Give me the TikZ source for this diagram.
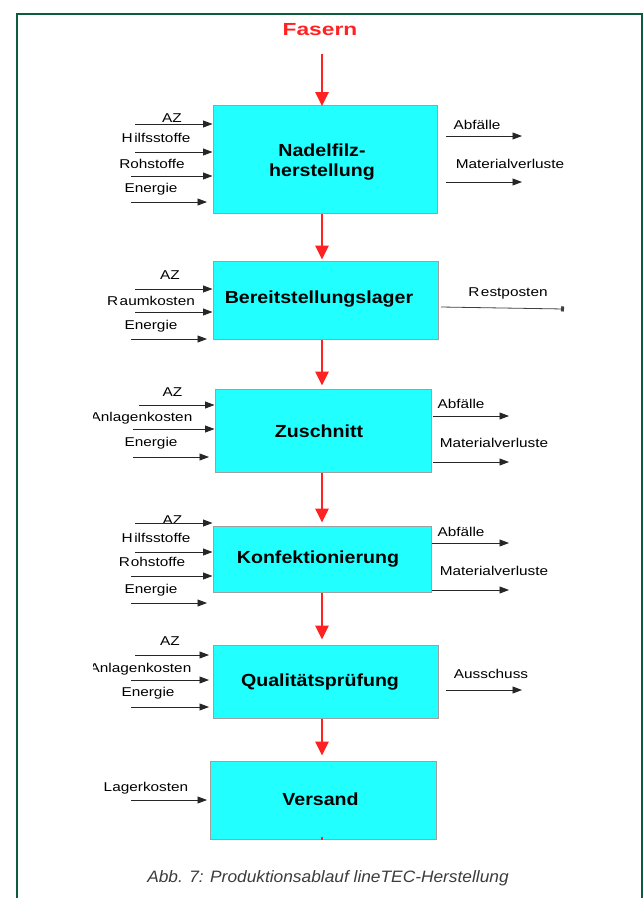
\documentclass[tikz,border=0pt]{standalone}
\usepackage{fontspec}
\usetikzlibrary{arrows.meta}
\newfontfamily\lblfont{Liberation Sans}[FakeStretch=1.2]
\newfontfamily\boxfont{Liberation Sans}[FakeStretch=1.12]
\newfontfamily\fasfont{Liberation Sans}[FakeStretch=1.3]
\newfontfamily\capfont{Liberation Sans}[FakeStretch=1.05]
\definecolor{framegreen}{RGB}{12,92,62}
\definecolor{boxcyan}{RGB}{34,255,255}
\definecolor{flowred}{RGB}{255,34,34}
\definecolor{capgray}{RGB}{60,60,60}
\tikzset{
  procbox/.style={draw=gray!75, line width=1pt, fill=boxcyan, inner sep=0pt,
    font=\boxfont\bfseries\fontsize{17.5}{20}\selectfont, align=center},
  lbl/.style={inner sep=0pt, font=\lblfont\fontsize{12.8}{14}\selectfont},
  inarr/.style={draw=black!85, line width=0.8pt, -{Triangle[length=9.5pt,width=7pt]}},
  flow/.style={draw=flowred, line width=2.8pt, -{Triangle[length=14pt,width=13pt]}},
}
\begin{document}
\begin{tikzpicture}[x=1pt,y=-1pt]
\useasboundingbox (0,0) rectangle (644,898);
% frame
\draw[framegreen, line width=2.2pt] (17,900) -- (17,14) -- (642,14) -- (642,900);

% title
\node[text=flowred, inner sep=0pt, font=\fasfont\bfseries\fontsize{17.5}{19}\selectfont] (fas) at (320,30) {Fasern};
\coordinate (top) at (322,54);

% boxes
\node[procbox, minimum width=224pt, minimum height=108pt] (b1) at (325,159) {};
\node[procbox, fill=none, draw=none] (t1) at (322,162) {Nadelfilz-\\herstellung};
\node[procbox, minimum width=225pt, minimum height=78pt] (b2) at (325.5,300) {};
\node[procbox, fill=none, draw=none] (t2) at (319,299) {Bereitstellungslager};
\node[procbox, minimum width=216pt, minimum height=83pt] (b3) at (323,430.5) {};
\node[procbox, fill=none, draw=none] (t3) at (319,431) {Zuschnitt};
\node[procbox, minimum width=218pt, minimum height=66pt] (b4) at (322,559) {};
\node[procbox, fill=none, draw=none] (t4) at (318,559) {Konfektionierung};
\node[procbox, minimum width=225pt, minimum height=73pt] (b5) at (325.5,681.5) {};
\node[procbox, fill=none, draw=none] (t5) at (320,682) {Qualitätsprüfung};
\node[procbox, minimum width=226pt, minimum height=78pt] (b6) at (323,800) {};
\node[procbox, fill=none, draw=none] (t6) at (320.5,799) {Versand};

% red flow
\coordinate (f1) at (322,106);
\draw[flow] (top) -- (f1);
\draw[flow] (b1.south -| top) -- ([yshift=1pt]b2.north -| top);
\draw[flow] (b2.south -| top) -- ([yshift=3pt]b3.north -| top);
\draw[flow] (b3.south -| top) -- ([yshift=3pt]b4.north -| top);
\draw[flow] (b4.south -| top) -- ([yshift=5pt]b5.north -| top);
\draw[flow] (b5.south -| top) -- ([yshift=5pt]b6.north -| top);
\draw[flowred, line width=2.2pt] (b6.south -| top) -- ([yshift=3pt]b6.south -| top);

% ---- box 1 inputs
\node[lbl] (l1a) at (172,118) {AZ};
\node[lbl] (l1b) at (156,138) {H\kern1.5pt ilfsstoffe};
\node[lbl] (l1c) at (152,164) {Rohstoffe};
\node[lbl] (l1d) at (151,189) {Energie};
\coordinate (s1a) at (135,124); \draw[inarr] (s1a) -- (s1a -| b1.west);
\coordinate (s1b) at (135,152); \draw[inarr] (s1b) -- (s1b -| b1.west);
\coordinate (s1c) at (131,176); \draw[inarr] (s1c) -- (s1c -| b1.west);
\coordinate (s1d) at (131,202); \coordinate (e1d) at (207,202); \draw[inarr] (s1d) -- (e1d);
% box 1 outputs
\node[lbl] (r1a) at (477,125) {Abfälle};
\node[lbl] (r1b) at (510,164) {Materialverluste};
\coordinate (o1a) at (446,136); \coordinate (p1a) at (522,136); \draw[inarr] (o1a) -- (p1a);
\coordinate (o1b) at (446,182); \coordinate (p1b) at (522,182); \draw[inarr] (o1b) -- (p1b);

% ---- box 2
\node[lbl] (l2a) at (170,275) {AZ};
\node[lbl] (l2b) at (151,301) {R\kern1.5pt aumkosten};
\node[lbl] (l2c) at (151,326) {Energie};
\coordinate (s2a) at (135,289); \draw[inarr] (s2a) -- (s2a -| b2.west);
\coordinate (s2b) at (135,312); \draw[inarr] (s2b) -- (s2b -| b2.west);
\coordinate (s2c) at (131,339); \coordinate (e2c) at (207,339); \draw[inarr] (s2c) -- (e2c);
\node[lbl] (r2a) at (508,293) {R\kern1.5pt estposten};
\coordinate (o2a) at (441,307); \coordinate (p2a) at (564,309);
\draw[draw=black!75, line width=0.8pt, -{Square[length=3pt,width=5pt]}] (o2a) -- (p2a);

% ---- box 3
\begin{scope}
\clip (93,380) rectangle (215,700);
\node[lbl] (l3b) at (141.5,418) {Anlagenkosten};
\node[lbl] (l5b) at (140.5,669) {Anlagenkosten};
\end{scope}
\node[lbl] (l3a) at (172.5,392) {AZ};
\node[lbl] (l3c) at (151,443) {Energie};
\coordinate (s3a) at (139,405); \draw[inarr] (s3a) -- (s3a -| b3.west);
\coordinate (s3b) at (133,429); \draw[inarr] (s3b) -- (s3b -| b3.west);
\coordinate (s3c) at (133,457); \coordinate (e3c) at (209,457); \draw[inarr] (s3c) -- (e3c);
\node[lbl] (r3a) at (461,404) {Abfälle};
\node[lbl] (r3b) at (494,443) {Materialverluste};
\coordinate (o3a) at (433,416); \coordinate (p3a) at (509,416); \draw[inarr] (o3a) -- (p3a);
\coordinate (o3b) at (433,462); \coordinate (p3b) at (509,462); \draw[inarr] (o3b) -- (p3b);

% ---- box 4
\node[lbl] (l4a) at (172.5,520) {AZ};
\node[lbl] (l4b) at (156,538) {H\kern1.5pt ilfsstoffe};
\node[lbl] (l4c) at (152,562) {R\kern0.8pt ohstoffe};
\node[lbl] (l4d) at (151,590) {Energie};
\coordinate (s4a) at (135,523); \draw[inarr] (s4a) -- (s4a -| b4.west);
\coordinate (s4b) at (135,552); \draw[inarr] (s4b) -- (s4b -| b4.west);
\coordinate (s4c) at (131,576); \draw[inarr] (s4c) -- (s4c -| b4.west);
\coordinate (s4d) at (131,603); \coordinate (e4d) at (207,603); \draw[inarr] (s4d) -- (e4d);
\node[lbl] (r4a) at (461,532) {Abfälle};
\node[lbl] (r4b) at (494,571) {Materialverluste};
\coordinate (o4a) at (432,543); \coordinate (p4a) at (509,543); \draw[inarr] (o4a) -- (p4a);
\coordinate (o4b) at (432,590); \coordinate (p4b) at (509,590); \draw[inarr] (o4b) -- (p4b);

% ---- box 5
\node[lbl] (l5a) at (170,641) {AZ};
\node[lbl] (l5c) at (148,693) {Energie};
\coordinate (s5a) at (135,655); \coordinate (e5a) at (209,655); \draw[inarr] (s5a) -- (e5a);
\coordinate (s5b) at (131,680); \coordinate (e5b) at (209,680); \draw[inarr] (s5b) -- (e5b);
\coordinate (s5c) at (131,707); \coordinate (e5c) at (209,707); \draw[inarr] (s5c) -- (e5c);
\node[lbl] (r5a) at (491,674) {Ausschuss};
\coordinate (o5a) at (446,690); \coordinate (p5a) at (522,690); \draw[inarr] (o5a) -- (p5a);

% ---- box 6
\node[lbl] (l6a) at (146,788) {Lagerkosten};
\coordinate (s6a) at (131,800); \coordinate (e6a) at (207,800); \draw[inarr] (s6a) -- (e6a);

% caption
\node[inner sep=0pt, text=capgray, font=\capfont\itshape\fontsize{16.5}{18}\selectfont] (cap) at (328,878) {Abb. 7: Produktionsablauf lineTEC-Herstellung};
\end{tikzpicture}
\end{document}
